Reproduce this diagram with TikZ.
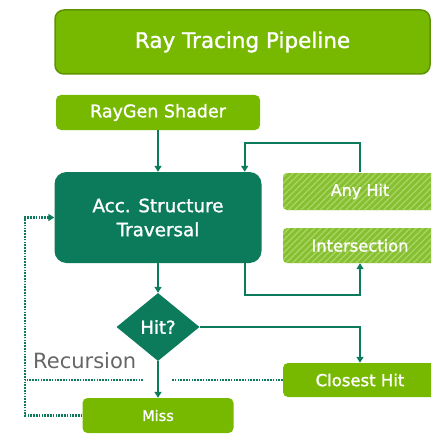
\documentclass[tikz,border=0pt]{standalone}
\usepackage{fontspec}
\setmainfont{DejaVu Sans}
\newfontfamily\semib[FakeBold=1.3]{DejaVu Sans}
\usetikzlibrary{arrows.meta,shapes.geometric,patterns.meta,calc}
\definecolor{nvgreen}{HTML}{76B900}
\definecolor{nvdark}{HTML}{5E9400}
\definecolor{accteal}{HTML}{0C7B5B}
\definecolor{hatchbase}{HTML}{86BF32}
\definecolor{hatchline}{HTML}{A9D460}
\definecolor{recgray}{HTML}{666666}
\begin{document}
\begin{tikzpicture}[x=1pt,y=-1pt,
  box/.style={rectangle, rounded corners=5pt, fill=nvgreen, text=white, inner sep=0pt},
  hatchbox/.style={rectangle, rounded corners=4pt, preaction={fill=hatchbase},
    pattern={Lines[angle=45,distance=4.5pt,line width=1.4pt]}, pattern color=hatchline,
    text=white, inner sep=0pt},
  arr/.style={draw=accteal, line width=2pt, -{Triangle[width=7pt,length=6pt]}},
  dotline/.style={draw=accteal, line width=2.3pt, dash pattern=on 1.6pt off 1.2pt},
]
\fill[white] (0,0) rectangle (431,441);
\clip (0,0) rectangle (431,441);

\node[box, draw=nvdark, line width=1.5pt, rounded corners=9pt, minimum width=375pt,
  minimum height=64pt, font=\semib\fontsize{21.5}{25}\selectfont] (title) at (242.5,42) {Ray Tracing Pipeline};
\node[box, minimum width=204pt, minimum height=35pt, font=\semib\fontsize{17.5}{20}\selectfont]
  (raygen) at (158,112.5) {RayGen Shader};
\node[box, fill=accteal, rounded corners=12pt, minimum width=207pt, minimum height=91pt,
  align=center, font=\semib\fontsize{18.3}{24}\selectfont] (acc) at (158,217.5) {Acc. Structure\\Traversal};
\node[hatchbox, minimum width=154pt, minimum height=37pt, font=\semib\fontsize{16}{19}\selectfont]
  (anyhit) at (360,191.5) {Any Hit};
\node[hatchbox, minimum width=154pt, minimum height=35pt, font=\semib\fontsize{16.3}{19}\selectfont]
  (inter) at (360,245.5) {Intersection};
\node[diamond, fill=accteal, text=white, minimum width=83pt, minimum height=68pt, inner sep=0pt,
  font=\semib\fontsize{18}{20}\selectfont] (hit) at (158,327) {Hit?};
\node[box, minimum width=154pt, minimum height=34pt, font=\semib\fontsize{16.5}{19}\selectfont]
  (closest) at (360,380) {Closest Hit};
\node[box, minimum width=151pt, minimum height=35pt, font=\semib\fontsize{14.5}{17}\selectfont]
  (miss) at (158,415.5) {Miss};
\node[text=recgray, font=\fontsize{21}{24}\selectfont, inner sep=0pt, anchor=base west]
  (rec) at (33,368.5) {Recursion};

\draw[arr] (raygen.south) -- (raygen.south |- acc.north);
\draw[arr] (anyhit.north) -- ++(0,-29) -| ($(acc.north east)+(-17,0)$);
\draw[arr] ($(acc.south east)+(-17,0)$) -- ++(0,32) -| (inter.south);
\draw[arr] (acc.south) -- (hit.north);
\draw[arr] (hit.east) -| (closest.north);
\draw[arr] (hit.south) -- (miss.north);

\coordinate (lc) at (25,0);
\coordinate (gapR) at (172,380);
\coordinate (gapL) at (143,380);
\draw[dotline, -{Triangle[width=7pt,length=6pt]}] (miss.west) -- (miss.west -| lc) |- (acc.west);
\draw[dotline] (closest.west) -- (gapR);
\draw[dotline] (gapL) -- (gapL -| lc);
\end{tikzpicture}
\end{document}
